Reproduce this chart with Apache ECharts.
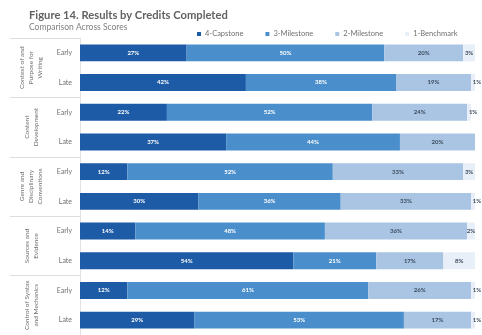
<!DOCTYPE html>
<html>
<head>
<meta charset="utf-8">
<script src="https://cdn.jsdelivr.net/npm/echarts@6/dist/echarts.min.js"></script>
<style>
  html, body { margin: 0; padding: 0; background: #fff; }
  #chart { width: 482px; height: 335px; }
</style>
</head>
<body>
<div id="chart"></div>
<script>
// Rows: each criterion has an Early and a Late bar
const groups = [
  'Context of and\nPurpose for\nWriting',
  'Content\nDevelopment',
  'Genre and\nDisciplinary\nConventions',
  'Sources and\nEvidence',
  'Control of Syntax\nand Mechanics'
];
const stages = ['Early', 'Late', 'Early', 'Late', 'Early', 'Late', 'Early', 'Late', 'Early', 'Late'];

// Percent of students at each score level
const capstone   = [27, 42, 22, 37, 12, 30, 14, 54, 12, 29];
const milestone3 = [50, 38, 52, 44, 52, 36, 48, 21, 61, 53];
const milestone2 = [20, 19, 24, 20, 33, 33, 36, 17, 26, 17];
const benchmark  = [3, 1, 1, 0, 3, 1, 2, 8, 1, 1];

const seriesNames = ['4-Capstone', '3-Milestone', '2-Milestone', '1-Benchmark'];
const colors = ['#1d5ba7', '#4a8fcb', '#a9c5e3', '#e9eff8'];
const labelColors = ['#ffffff', '#ffffff', '#3b4a5e', '#3b4a5e'];

const FONT = 'Lato, "Open Sans", sans-serif';

function makeSeries(name, values, idx) {
  return {
    name: name,
    type: 'bar',
    stack: 'total',
    barCategoryGap: '43%',
    itemStyle: { color: colors[idx] },
    data: values.map(v => {
      const item = { value: v };
      if (v === 0) item.label = { show: false };
      else if (idx === 3 && v <= 1) item.label = { offset: [4, 0] };
      return item;
    }),
    label: {
      show: true,
      position: 'inside',
      formatter: p => p.value + '%',
      fontSize: 6,
      fontWeight: 'bold',
      fontFamily: FONT,
      color: labelColors[idx]
    }
  };
}

const chart = echarts.init(document.getElementById('chart'), null, { renderer: 'canvas' });
chart.setOption({
  animation: false,
  backgroundColor: '#ffffff',
  color: colors,
  title: {
    text: 'Figure 14. Results by Credits Completed',
    subtext: 'Comparison Across Scores',
    left: 24,
    top: 5,
    itemGap: 2,
    textStyle: { fontSize: 11.2, fontWeight: 'bold', color: '#626262', fontFamily: FONT },
    subtextStyle: { fontSize: 8.5, color: '#808080', fontFamily: FONT }
  },
  legend: {
    data: seriesNames,
    left: 192,
    top: 25,
    itemWidth: 4,
    itemHeight: 4,
    itemGap: 22,
    icon: 'rect',
    textStyle: { fontSize: 7.5, color: '#707070', fontFamily: FONT, padding: [0, 0, 0, -1] }
  },
  grid: { left: 80, right: 7, top: 38, height: 301, containLabel: false },
  xAxis: { type: 'value', min: 0, max: 100, show: false },
  yAxis: [
    {
      type: 'category',
      data: stages,
      inverse: true,
      axisLine: { show: true, lineStyle: { color: '#e2e2e2' } },
      axisTick: { show: false },
      axisLabel: { interval: 0, fontSize: 7, color: '#707070', fontFamily: FONT, margin: 8 }
    },
    {
      type: 'category',
      data: groups,
      inverse: true,
      position: 'left',
      axisLine: { show: false },
      axisTick: { show: true, interval: 0, length: 70, lineStyle: { color: '#dedede' } },
      axisLabel: {
        interval: 0,
        rotate: 90,
        align: 'center',
        verticalAlign: 'middle',
        margin: 49,
        fontSize: 6.5,
        lineHeight: 9,
        color: '#707070',
        fontFamily: FONT
      }
    }
  ],
  series: [
    makeSeries(seriesNames[0], capstone, 0),
    makeSeries(seriesNames[1], milestone3, 1),
    makeSeries(seriesNames[2], milestone2, 2),
    makeSeries(seriesNames[3], benchmark, 3)
  ]
});
</script>
</body>
</html>
